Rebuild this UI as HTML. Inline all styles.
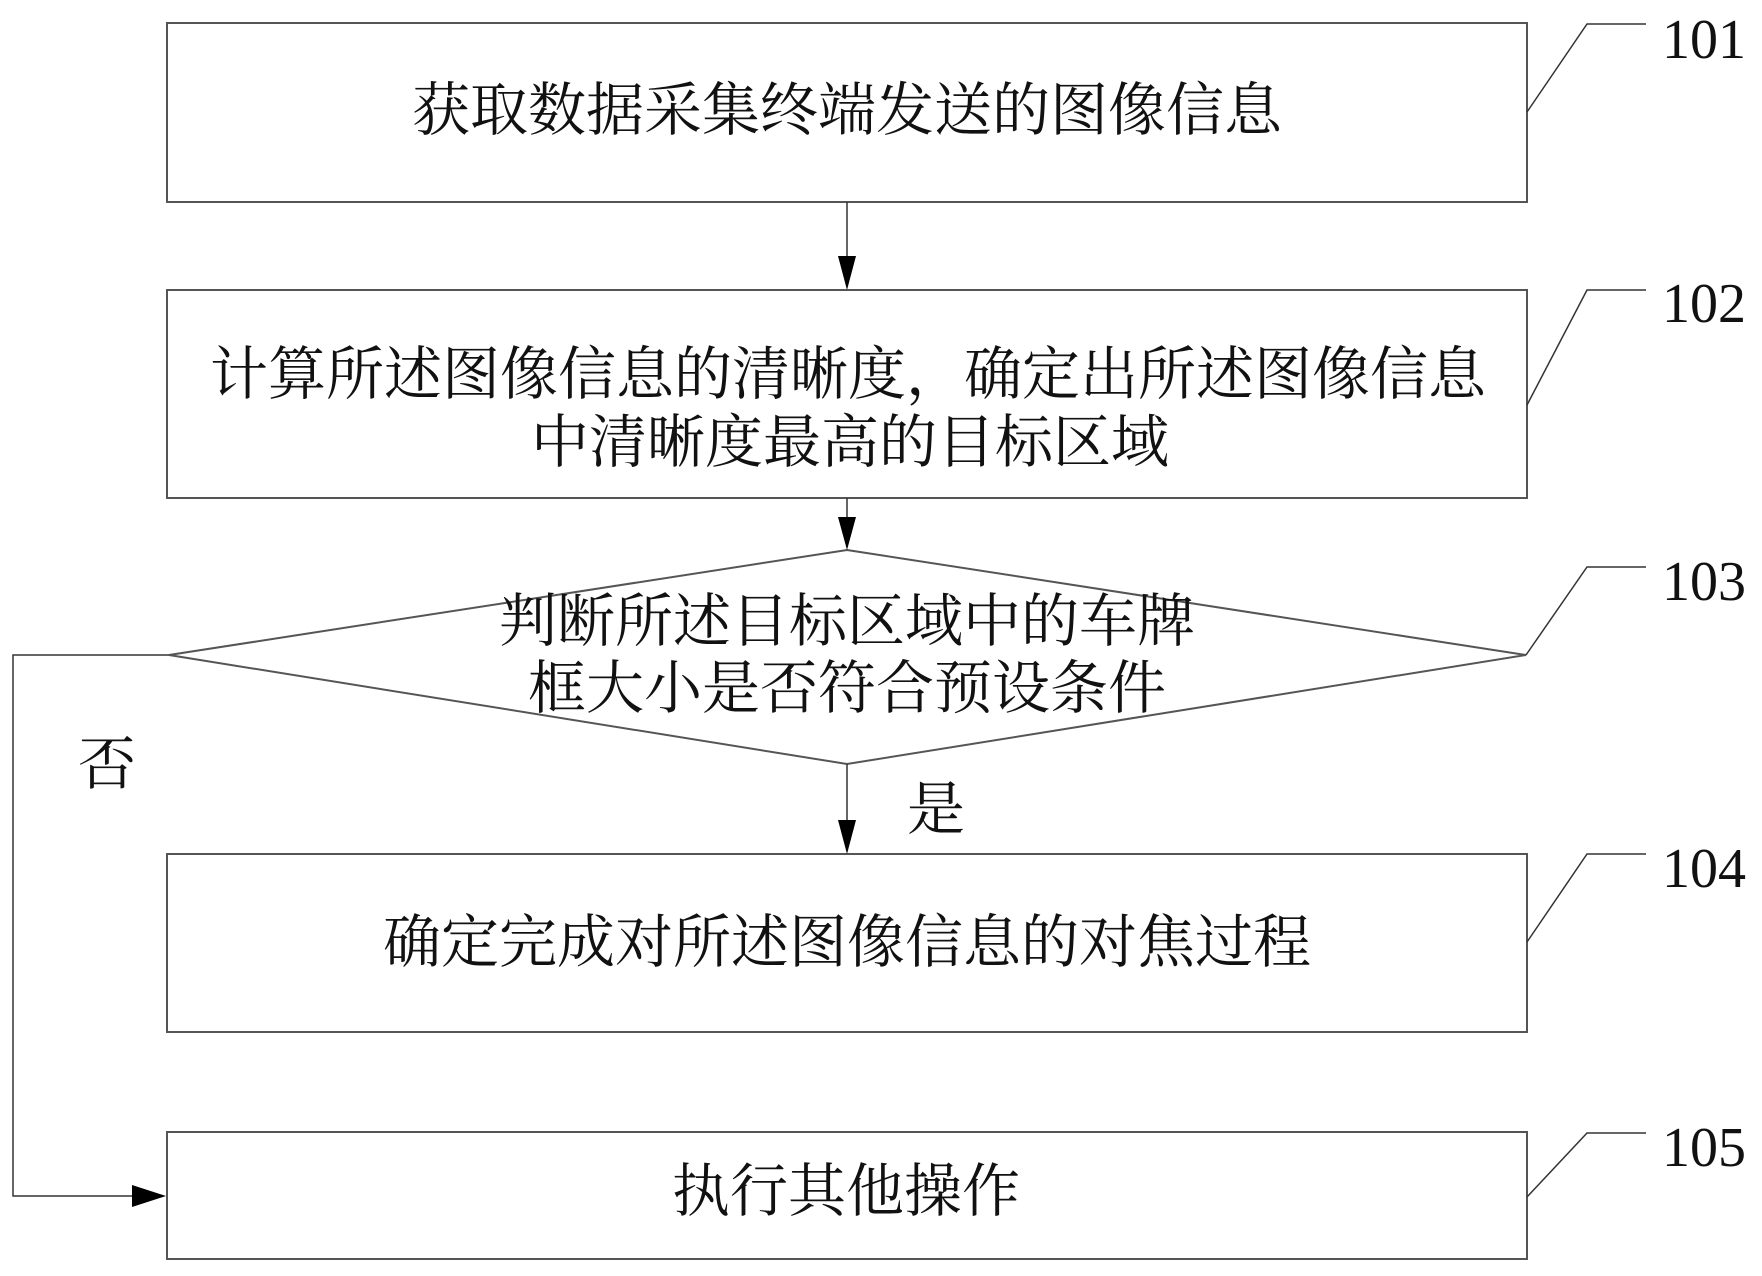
<!DOCTYPE html>
<html><head><meta charset="utf-8"><style>html,body{margin:0;padding:0;background:#fff}svg{display:block}</style></head>
<body>
<svg width="1762" height="1276" viewBox="0 0 1762 1276" xmlns="http://www.w3.org/2000/svg">
<g fill="none" stroke="#555" stroke-width="2">
<rect x="167" y="23" width="1360" height="179"/>
<rect x="167" y="290" width="1360" height="208"/>
<polygon points="847,550 1526,655 847,764 169,655"/>
<rect x="167" y="854" width="1360" height="178"/>
<rect x="167" y="1132" width="1360" height="127"/>
</g>
<g stroke="#333" stroke-width="1.5" fill="none">
<line x1="847" y1="202" x2="847" y2="262"/>
<line x1="847" y1="498" x2="847" y2="522"/>
<line x1="847" y1="764" x2="847" y2="826"/>
<polyline points="169,655 13,655 13,1196 134,1196"/>
<polyline points="1527,112 1587,24 1646,24"/>
<polyline points="1527,405 1587,290 1646,290"/>
<polyline points="1526,655 1587,567 1646,567"/>
<polyline points="1527,942 1587,854 1646,854"/>
<polyline points="1527,1197 1587,1133 1646,1133"/>
</g>
<g fill="#000">
<polygon points="838,256 856,256 847,290"/>
<polygon points="838,517 856,517 847,550"/>
<polygon points="838,820 856,820 847,854"/>
<polygon points="132,1185 132,1207 166,1196"/>
</g>
<g font-family="'Liberation Serif','Noto Serif CJK SC',serif" font-size="58" fill="#111" text-anchor="middle">
<text x="847" y="130">获取数据采集终端发送的图像信息</text>
<text x="848" y="394">计算所述图像信息的清晰度，确定出所述图像信息</text>
<text x="850" y="462">中清晰度最高的目标区域</text>
<text x="847" y="641">判断所述目标区域中的车牌</text>
<text x="847" y="708">框大小是否符合预设条件</text>
<text x="847" y="962">确定完成对所述图像信息的对焦过程</text>
<text x="846" y="1211">执行其他操作</text>
<text x="107" y="784">否</text>
<text x="936" y="829">是</text>
</g>
<g font-family="'Liberation Serif',serif" font-size="56" fill="#111" transform="translate(0,0)">
<text x="1662" y="58" textLength="84" lengthAdjust="spacingAndGlyphs">101</text>
<text x="1662" y="322" textLength="84" lengthAdjust="spacingAndGlyphs">102</text>
<text x="1662" y="600" textLength="84" lengthAdjust="spacingAndGlyphs">103</text>
<text x="1662" y="887" textLength="84" lengthAdjust="spacingAndGlyphs">104</text>
<text x="1662" y="1166" textLength="84" lengthAdjust="spacingAndGlyphs">105</text>
</g>
</svg>
</body></html>
